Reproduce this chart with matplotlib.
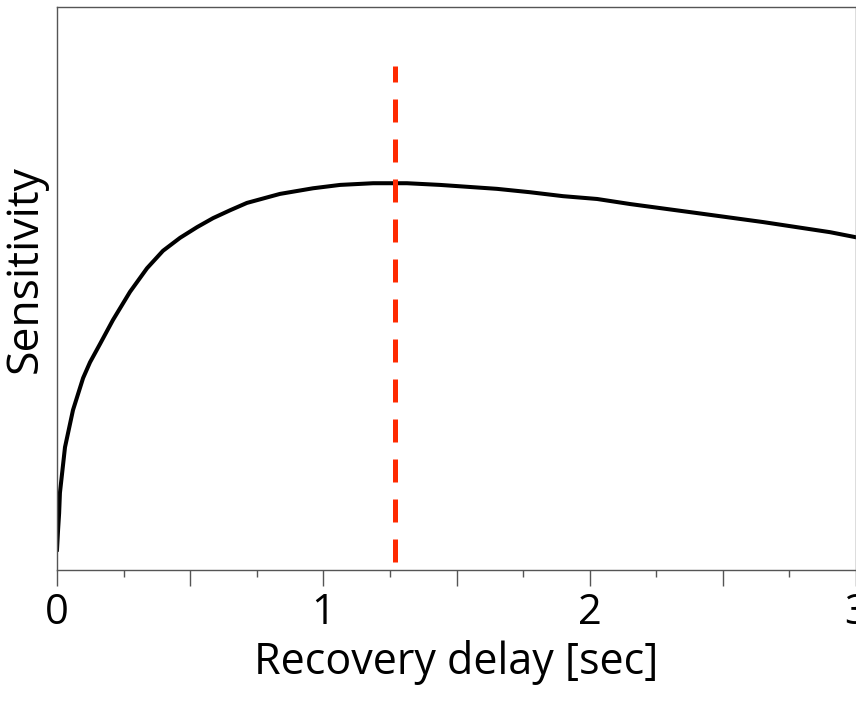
import numpy as np
import matplotlib
matplotlib.use("Agg")
import matplotlib.pyplot as plt

# curve (delay in sec, sensitivity in arbitrary units)
delay = [0.000, 0.004, 0.008, 0.011, 0.030, 0.060, 0.098, 0.124, 0.161, 0.210,
         0.274, 0.338, 0.398, 0.462, 0.526, 0.586, 0.650, 0.713, 0.837, 0.961,
         1.063, 1.187, 1.314, 1.438, 1.652, 1.776, 1.900, 2.028, 2.152, 2.403,
         2.651, 2.903, 3.000]
sensitivity = [0.036, 0.071, 0.101, 0.137, 0.218, 0.284, 0.341, 0.369, 0.401, 0.444,
               0.494, 0.536, 0.567, 0.590, 0.609, 0.625, 0.639, 0.652, 0.668, 0.678,
               0.684, 0.687, 0.687, 0.684, 0.677, 0.671, 0.664, 0.659, 0.650, 0.634,
               0.618, 0.600, 0.591]

optimum = 1.27            # dashed marker position
marker_span = [0.014, 0.895]

tick_pos = [0, 0.5, 1, 1.5, 2, 2.5, 3]
tick_lab = ["0", "", "1", "", "2", "", "3"]
minor_pos = [0.25, 0.75, 1.25, 1.75, 2.25, 2.75]

plt.rcParams["font.family"] = ["Open Sans", "DejaVu Sans"]

fig = plt.figure(figsize=(8.56, 7.12), dpi=100)
ax = fig.add_axes([57 / 856, 1 - 570 / 712, 799 / 856, 563 / 712])

ax.plot(delay, sensitivity, color="black", lw=2.9, solid_joinstyle="round")
ax.plot([optimum, optimum], marker_span, color="#ff2a00", lw=3.6,
        dashes=(4.6, 3.4))

ax.set_xlim(0, 3)
ax.set_ylim(0, 1)

ax.set_xticks(tick_pos)
ax.set_xticklabels(tick_lab)
ax.set_xticks(minor_pos, minor=True)
ax.set_yticks([])
ax.tick_params(axis="x", which="major", direction="out", length=11.5,
               width=1, color="#555555", labelsize=30, pad=4)
ax.tick_params(axis="x", which="minor", direction="out", length=5,
               width=1, color="#555555")

for side in ["left", "bottom", "top", "right"]:
    ax.spines[side].set_color("#555555")
    ax.spines[side].set_linewidth(1)

ax.set_xlabel("Recovery delay [sec]", fontsize=31, labelpad=5)
ax.set_ylabel("Sensitivity", fontsize=32)
ax.yaxis.set_label_coords(-0.012, 0.535)

fig.savefig("out.png", dpi=100)
